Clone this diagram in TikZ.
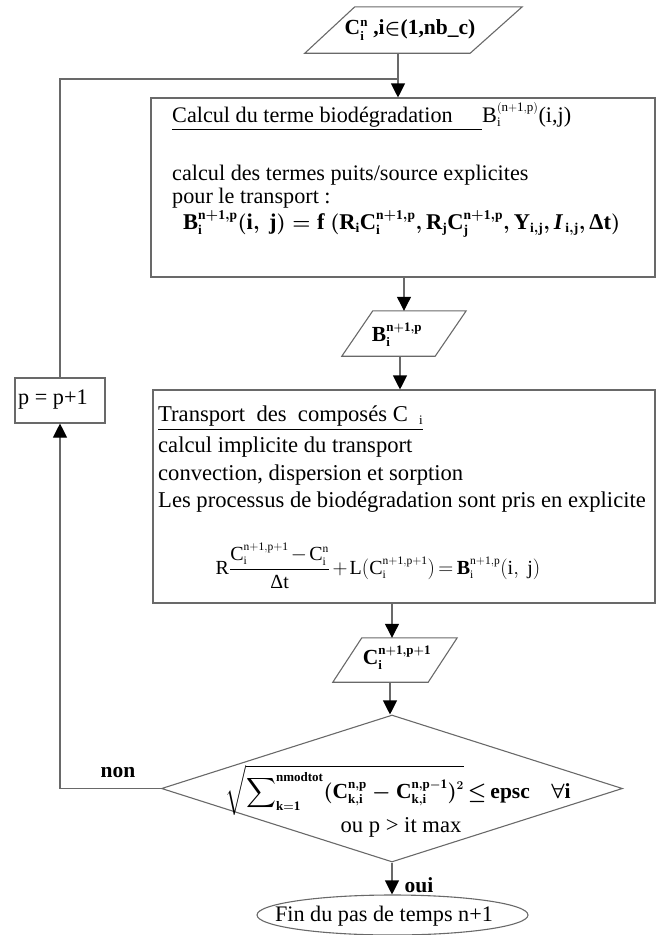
\documentclass[tikz,border=0pt]{standalone}
\usepackage{exscale}
\usepackage{fontspec}
\setmainfont{Liberation Serif}
\usetikzlibrary{arrows.meta,shapes.geometric,calc}
\definecolor{ln}{RGB}{105,105,105}
\newcommand{\rmm}[1]{\mathrm{#1}}
\DeclareMathSizes{21.5}{21.5}{13}{10}
\DeclareMathSizes{22}{22}{13}{10}
\DeclareMathSizes{22.2}{22.2}{13}{10}
\DeclareMathSizes{22.5}{22.5}{13.5}{10}
\DeclareMathSizes{22.6}{22.6}{13}{10}
\DeclareMathSizes{20}{20}{11.5}{9}
\begin{document}
\begin{tikzpicture}[x=1pt,y=-1pt,
  line/.style={draw=ln, line width=1.1pt},
  arr/.style={line, -{Triangle[length=14pt,width=14pt,color=black]}},
  txt/.style={inner sep=0pt, font=\fontsize{22.6}{26}\selectfont},
  atxt/.style={inner sep=0pt, font=\fontsize{22.2}{26}\selectfont},
  btxt/.style={inner sep=0pt, font=\fontsize{21.5}{24}\selectfont\bfseries\boldmath},
  frame/.style={line, rectangle, inner sep=0pt},
  shapebox/.style={inner sep=0pt, draw=none, rectangle}
]
\useasboundingbox (0,0) rectangle (656,935);

% named coordinates for connector columns
\coordinate (xa) at (398,0);
\coordinate (xb) at (404,0);
\coordinate (xc) at (400,0);
\coordinate (xd) at (392,0);
\coordinate (xe) at (390,0);
\coordinate (junc) at (398,79);

% input parallelogram
\node[shapebox, minimum width=217pt, minimum height=46pt] (in) at (413.5,30) {};
\draw[line] ($(in.north west)+(50,0)$) -- (in.north east) -- ($(in.south east)+(-52,0)$) -- (in.south west) -- cycle;
\node[btxt] (intxt) at (410,30) {$\rmm{C}_{\rmm{i}}^{\rmm{n}}$\ ,i$\in$(1,nb\_c)};

% box 1
\node[frame, minimum width=504pt, minimum height=179pt] (box1) at (403,187.5) {};
\node[atxt, anchor=west] (b1l1) at (172,117) {\underline{\makebox[310pt][l]{Calcul du terme biodégradation}}$\rmm{B}_{\rmm i}^{(\rmm{n+1,p})}$(i,j)};
\node[atxt, anchor=west] (b1l2) at (172,175) {calcul des termes puits/source explicites};
\node[atxt, anchor=west] (b1l3) at (172,198) {pour le transport :};
\node[btxt, font=\fontsize{22.5}{26}\selectfont\bfseries\boldmath, anchor=west] (b1f) at (183,224) {$\rmm{B}_{\rmm i}^{\rmm{n+1,p}}(\rmm{i,\ j}) = \rmm{f}\ (\rmm{R}_{\rmm i}\rmm{C}_{\rmm i}^{\rmm{n+1,p}}, \rmm{R}_{\rmm j}\rmm{C}_{\rmm j}^{\rmm{n+1,p}}, \rmm{Y}_{\rmm{i,j}}, \mathit{I}_{\,\rmm{i,j}}, \mbox{Δ}\rmm{t})$};

% B parallelogram
\node[shapebox, minimum width=124pt, minimum height=45pt] (bpar) at (404,333.5) {};
\draw[line] ($(bpar.north west)+(31,0)$) -- (bpar.north east) -- ($(bpar.south east)+(-31,0)$) -- (bpar.south west) -- cycle;
\node[btxt] (bptxt) at (397,335) {$\rmm{B}_{\rmm i}^{\rmm{n+1,p}}$};

% box 2
\node[frame, minimum width=502pt, minimum height=213pt] (box2) at (404,496.5) {};
\node[txt, anchor=west] (b2l1) at (158,418) {\underline{Transport\ \ des\ \ composés C\ \ $_{\rmm i}$}};
\node[txt, anchor=west] (b2l2) at (158,447) {calcul implicite du transport};
\node[txt, anchor=west] (b2l3) at (158,475) {convection, dispersion et sorption};
\node[txt, anchor=west] (b2l4) at (158,502) {Les processus de biodégradation sont pris en explicite};
\node[inner sep=0pt, font=\fontsize{20}{24}\selectfont] (b2f) at (378,566) {\medmuskip=2mu\thickmuskip=3mu$\rmm{R}{\displaystyle\frac{\rmm{C}_{\rmm i}^{\rmm{n+1,p+1}}-\rmm{C}_{\rmm i}^{\rmm n}}{\mbox{Δ}\rmm t}}+\rmm{L}(\rmm{C}_{\rmm i}^{\rmm{n+1,p+1}})=\mathbf{B}_{\rmm i}^{\rmm{n+1,p}}(\rmm{i,\ j})$};

% C parallelogram
\node[shapebox, minimum width=124pt, minimum height=44pt] (cpar) at (395,660) {};
\draw[line] ($(cpar.north west)+(29,0)$) -- (cpar.north east) -- ($(cpar.south east)+(-29,0)$) -- (cpar.south west) -- cycle;
\node[btxt] (cptxt) at (397,658) {$\rmm{C}_{\rmm i}^{\rmm{n+1,p+1}}$};

% decision diamond
\node[diamond, line, minimum width=461pt, minimum height=147pt, inner sep=0pt] (dia) at (392,788.5) {};
\node[btxt] (cond) at (398,790) {\thickmuskip=3mu$\sqrt{\displaystyle\sum\nolimits_{\rmm{k=1}}^{\rmm{nmodtot}} (\rmm{C}_{\rmm{k,i}}^{\rmm{n,p}} - \rmm{C}_{\rmm{k,i}}^{\rmm{n,p-1}})^2}\leq\rmm{epsc}\quad\forall\rmm{i}$};
\node[txt] (cond2) at (401,827) {ou p > it max};

% p = p+1 box
\node[frame, minimum width=90pt, minimum height=45pt] (pbox) at (60,400.5) {};
\node[atxt, anchor=west] (ptxt) at (18,400) {p = p+1};

% end ellipse
\node[ellipse, line, minimum width=271pt, minimum height=40pt, inner sep=0pt] (fin) at (392.5,915) {};
\node[atxt] (fintxt) at (384,916) {Fin du pas de temps n+1};

% labels
\node[btxt] (non) at (118,773) {non};
\node[btxt] (oui) at (419,885) {oui};

% connectors
\draw[arr] (in.south -| xa) -- (box1.north -| xa);
\draw[arr] (box1.south -| xb) -- (bpar.north -| xb);
\draw[arr] (bpar.south -| xc) -- (box2.north -| xc);
\draw[arr] (box2.south -| xd) -- (cpar.north -| xd);
\draw[arr] (cpar.south -| xe) -- (dia.north -| xe);
\draw[arr] (dia.south -| xd) -- (fin.north -| xd);
\draw[arr] (dia.west) -| (pbox.south);
\draw[line] (pbox.north) |- (junc);
\end{tikzpicture}
\end{document}
